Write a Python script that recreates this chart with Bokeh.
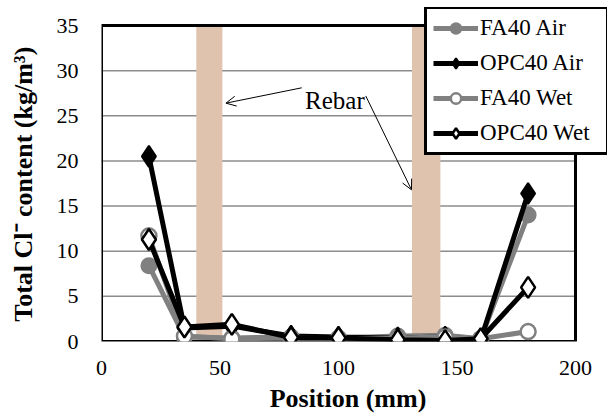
from bokeh.plotting import figure
from bokeh.models import Range1d, Legend, LegendItem, Arrow, OpenHead, Label, FixedTicker
from bokeh.embed import file_html
from bokeh.resources import INLINE

position = [20, 35, 55, 80, 100, 125, 145, 160, 180]
fa40_air = [8.4, 0.5, 0.4, 0.5, 0.4, 0.6, 0.7, 0.3, 14.0]
opc40_air = [20.5, 1.5, 1.7, 0.6, 0.5, 0.4, 0.5, 0.2, 16.4]
fa40_wet = [11.7, 0.6, 0.3, 0.4, 0.3, 0.4, 0.5, 0.3, 1.1]
opc40_wet = [11.3, 1.6, 1.9, 0.45, 0.4, 0.2, 0.1, 0.3, 6.0]
rebar_left = [40, 131]
rebar_right = [51, 143]
x_ticks = [0, 50, 100, 150, 200]
y_ticks = [0, 5, 10, 15, 20, 25, 30, 35]
x_min, x_max = 0, 200
y_min, y_max = 0, 35

FONT = "Liberation Serif"

# The frame is extended beyond the axes box so that the legend (which
# overhangs the plot box in the reference) is not clipped.
frame_l, frame_r, frame_t, frame_b = 101, 607, 7, 341
box_r, box_t = 575, 25
x_end = x_max * (frame_r - frame_l) / (box_r - frame_l)
y_end = y_max * (frame_b - frame_t) / (frame_b - box_t)

p = figure(width=608, height=419, output_backend="svg", toolbar_location=None,
           x_range=Range1d(x_min, x_end), y_range=Range1d(y_min, y_end),
           min_border_left=frame_l, min_border_right=608 - frame_r,
           min_border_top=frame_t, min_border_bottom=419 - frame_b)
p.background_fill_color = "white"
p.border_fill_color = "white"
p.outline_line_color = None
p.xgrid.grid_line_color = None
p.ygrid.grid_line_color = None

p.xaxis.ticker = FixedTicker(ticks=x_ticks)
p.yaxis.ticker = FixedTicker(ticks=y_ticks)
for ax in (p.xaxis, p.yaxis):
    ax.axis_line_color = None
    ax.major_tick_line_color = None
    ax.minor_tick_line_color = None
    ax.major_label_text_font = FONT
    ax.major_label_text_font_size = "22px"
    ax.major_label_text_color = "black"
    ax.axis_label_text_font = FONT
    ax.axis_label_text_font_style = "bold"
    ax.axis_label_text_color = "black"
p.xaxis.axis_label_text_font_size = "26px"
p.yaxis.axis_label_text_font_size = "26px"
p.xaxis.major_label_standoff = 13
p.yaxis.major_label_standoff = 17
p.xaxis.axis_label = "Position (mm)\u00a0\u00a0"
p.xaxis.axis_label_standoff = 6
p.yaxis.axis_label = "Total Cl\u207b content (kg/m\u00b3)\u00a0\u00a0\u00a0"
p.yaxis.axis_label_standoff = 16

# horizontal gridlines inside the plot box
grid_y = y_ticks[1:-1]
p.segment(x0=[x_min] * len(grid_y), x1=[x_max] * len(grid_y), y0=grid_y, y1=grid_y,
          line_color="#8c8c8c", line_width=1.5)

# rebar bands
p.quad(left=rebar_left, right=rebar_right, bottom=[y_min] * 2, top=[y_max] * 2,
       fill_color="#dfc3ae", line_color=None)

# plot box outline
p.quad(left=[x_min], right=[x_max], bottom=[y_min], top=[y_max],
       fill_color=None, line_color="black", line_width=3)

GRAY = "#808080"
ms = 15
r1l = p.line(position, fa40_air, line_color=GRAY, line_width=5)
r1m = p.scatter(position, fa40_air, marker="circle", size=ms, fill_color=GRAY, line_color=GRAY, line_width=2)
r2l = p.line(position, opc40_air, line_color="black", line_width=5)
r2m = p.scatter(position, opc40_air, marker="diamond", size=ms + 6, fill_color="black", line_color="black", line_width=2)
r3l = p.line(position, fa40_wet, line_color=GRAY, line_width=5)
r3m = p.scatter(position, fa40_wet, marker="circle", size=ms, fill_color="white", line_color=GRAY, line_width=2.5)
r4l = p.line(position, opc40_wet, line_color="black", line_width=5)
r4m = p.scatter(position, opc40_wet, marker="diamond", size=ms + 6, fill_color="white", line_color="black", line_width=2.5)

# annotation
p.add_layout(Label(x=98.5, y=26.7, text="Rebar", text_font=FONT, text_font_size="25px",
                   text_align="center", text_baseline="middle", text_color="black"))
p.add_layout(Arrow(x_start=84.5, y_start=28.1, x_end=52.5, y_end=26.4,
                   line_width=1, line_color="black",
                   end=OpenHead(size=10, line_width=1, line_color="black")))
p.add_layout(Arrow(x_start=111.5, y_start=27.2, x_end=130.8, y_end=16.8,
                   line_width=1, line_color="black",
                   end=OpenHead(size=10, line_width=1, line_color="black")))

legend = Legend(items=[
    LegendItem(label="FA40 Air", renderers=[r1l, r1m]),
    LegendItem(label="OPC40 Air", renderers=[r2l, r2m]),
    LegendItem(label="FA40 Wet", renderers=[r3l, r3m]),
    LegendItem(label="OPC40 Wet", renderers=[r4l, r4m]),
], location=(323, 186))
legend.border_line_color = "black"
legend.border_line_alpha = 1.0
legend.border_line_width = 3
legend.background_fill_color = "white"
legend.background_fill_alpha = 1
legend.label_text_font = FONT
legend.label_text_font_size = "23px"
legend.label_text_color = "black"
legend.glyph_width = 45
legend.glyph_height = 26
legend.label_height = 26
legend.label_width = 120
legend.spacing = 9
legend.padding = 6
legend.margin = 0
legend.label_standoff = 2
p.add_layout(legend, "center")

open("out.html", "w").write(file_html(p, INLINE))
